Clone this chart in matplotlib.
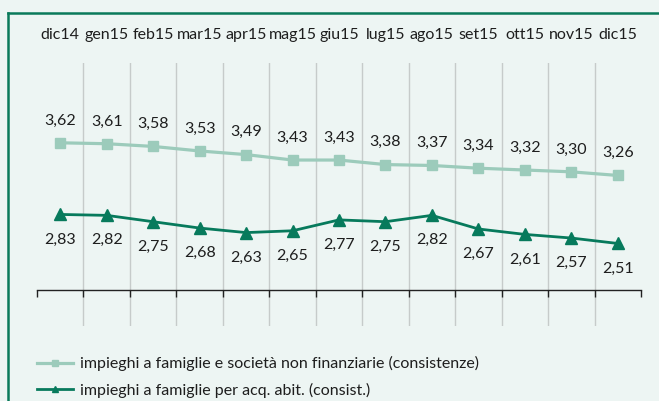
import matplotlib
matplotlib.use("Agg")
import matplotlib.pyplot as plt
from matplotlib.lines import Line2D

categories = ["dic14", "gen15", "feb15", "mar15", "apr15", "mag15", "giu15",
              "lug15", "ago15", "set15", "ott15", "nov15", "dic15"]
impieghi_totali = [3.62, 3.61, 3.58, 3.53, 3.49, 3.43, 3.43, 3.38, 3.37, 3.34, 3.32, 3.30, 3.26]
impieghi_abit = [2.83, 2.82, 2.75, 2.68, 2.63, 2.65, 2.77, 2.75, 2.82, 2.67, 2.61, 2.57, 2.51]
label_totali = "impieghi a famiglie e società non finanziarie (consistenze)"
label_abit = "impieghi a famiglie per acq. abit. (consist.)"

BG = "#edf5f3"
LIGHT = "#9ccbbb"
DARK = "#077a5c"
BORDER = "#0a7a5a"
GRID = "#c6cbca"
TXT = "#1e1e1e"

plt.rcParams['font.family'] = ['Lato', 'DejaVu Sans']
plt.rcParams['font.weight'] = 'normal'

fig = plt.figure(figsize=(6.59, 4.01), dpi=100, facecolor=BG)
ax = fig.add_axes([37/659, 1-326/401, 604/659, (326-63)/401])
ax.set_facecolor(BG)

n = len(categories)
x = list(range(n))
ax.set_xlim(-0.5, n - 0.5)
ax.set_ylim(1.6, 4.5)

for b in range(1, n):
    ax.axvline(b - 0.5, color=GRID, lw=1.0, zorder=1)

l1, = ax.plot(x, impieghi_totali, color=LIGHT, lw=2.3, marker='s', ms=7.2,
              label=label_totali, zorder=3)
l2, = ax.plot(x, impieghi_abit, color=DARK, lw=2.0, marker='^', ms=8,
              label=label_abit, zorder=3)

FS = 11.5
for xi, v in zip(x, impieghi_totali):
    ax.annotate(f"{v:.2f}".replace(".", ","), (xi, v), xytext=(0, 16),
                textcoords="offset points", ha="center", va="center",
                fontsize=FS, color=TXT)
for xi, v in zip(x, impieghi_abit):
    ax.annotate(f"{v:.2f}".replace(".", ","), (xi, v), xytext=(0, -18),
                textcoords="offset points", ha="center", va="center",
                fontsize=FS, color=TXT)

for s in ["top", "right", "left"]:
    ax.spines[s].set_visible(False)
ax.spines["bottom"].set_position(("data", 2.0))
ax.spines["bottom"].set_color("#222222")
ax.spines["bottom"].set_linewidth(1.0)
ax.set_yticks([])
ax.set_xticks([b - 0.5 for b in range(n + 1)])
ax.set_xticklabels([])
ax.tick_params(axis="x", direction="out", length=5, width=1, color="#222222")

top = ax.secondary_xaxis("top")
top.set_xticks(x)
top.set_xticklabels(categories, fontsize=FS, color=TXT)
top.tick_params(length=0, pad=15)
top.spines["top"].set_visible(False)

fig.legend(handles=[l1, l2], loc="upper left", bbox_to_anchor=(23/659, 1-342/401),
           frameon=False, fontsize=11.5, handlelength=2.25, handletextpad=0.45,
           labelspacing=0.7, labelcolor=TXT, markerscale=0.6)

fig.add_artist(Line2D([8/659, 1.0], [1-13/401, 1-13/401], color=BORDER, lw=1.8,
                      transform=fig.transFigure))
fig.add_artist(Line2D([8/659, 8/659], [0, 1-13/401], color=BORDER, lw=1.8,
                      transform=fig.transFigure))

fig.savefig("out.png", dpi=100, facecolor=BG)
